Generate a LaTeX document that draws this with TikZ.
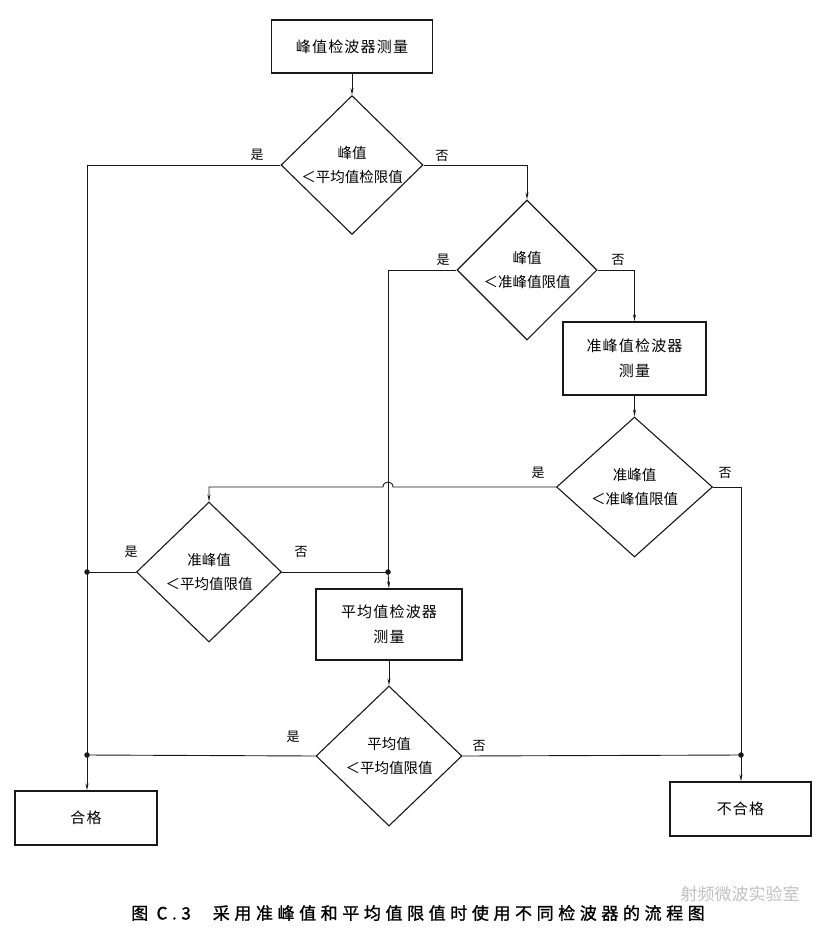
\documentclass[tikz,border=0pt]{standalone}
\usepackage{fontspec}
\setmainfont{Noto Sans CJK SC}
\newfontfamily\capfont[FakeBold=1.2,LetterSpace=27]{Noto Sans CJK SC}
\newfontfamily\boxfont[LetterSpace=8]{Noto Sans CJK SC}
\usetikzlibrary{shapes.geometric,arrows.meta}
\definecolor{ln}{gray}{0.1}
\tikzset{
  stepbox/.style={draw=ln, line width=1.3pt, align=center, inner sep=0pt,
    font=\boxfont\fontsize{15}{25}\selectfont},
  decide/.style={draw=ln, line width=1.1pt, shape=diamond, inner sep=0pt, align=center,
    font=\fontsize{14.5}{24}\selectfont},
  yn/.style={font=\fontsize{13}{15}\selectfont, inner sep=0pt},
  conn/.style={draw=ln, line width=0.9pt},
  arr/.style={conn, -{Stealth[length=7pt,width=3pt]}},
  jdot/.style={circle, fill=ln, inner sep=0pt, minimum size=5.5pt}
}
\begin{document}
\begin{tikzpicture}[x=1pt,y=-1pt]
\useasboundingbox (0,0) rectangle (826,940);
\fill[white] (0,0) rectangle (826,940);

% boxes
\node[stepbox, minimum width=161pt, minimum height=53pt] (A) at (352,46.5) {峰值检波器测量};
\node[stepbox, minimum width=143pt, minimum height=73pt] (B) at (634.5,358.5) {准峰值检波器\\测量};
\node[stepbox, minimum width=146pt, minimum height=71pt] (C) at (389,624.5) {平均值检波器\\测量};
\node[stepbox, minimum width=142pt, minimum height=54pt] (pass) at (86,818) {合格};
\node[stepbox, minimum width=141pt, minimum height=54pt] (fail) at (740.5,809) {不合格};

% decisions
\node[decide, minimum width=142pt, minimum height=138pt] (D1) at (352,165) {峰值\\＜平均值检限值};
\node[decide, minimum width=140pt, minimum height=140pt] (D2) at (527,270) {峰值\\＜准峰值限值};
\node[decide, minimum width=156pt, minimum height=140pt] (D3) at (634.5,487) {准峰值\\＜准峰值限值};
\node[decide, minimum width=145pt, minimum height=140pt] (D4) at (209,572) {准峰值\\＜平均值限值};
\node[decide, minimum width=146pt, minimum height=140pt] (D5) at (389,756) {平均值\\＜平均值限值};

% junctions
\coordinate (j1) at (87,572);
\coordinate (j2) at (87,755);
\coordinate (j3) at (388,572);
\coordinate (j4) at (741,755);
\coordinate (jump) at (388,487);

% connectors
\draw[arr] (A.south) -- (D1.north);
\draw[conn] (D1.west) -| (j2);
\draw[arr] (j2) -- (j2 |- pass.north);
\draw[arr] (D1.east) -| (D2.north);
\draw[conn] (D2.west) -| (j3);
\draw[arr] (D2.east) -| (B.north);
\draw[arr] (B.south) -- (D3.north);
\draw[arr] (D3.west) -- ([xshift=5pt]jump)
   .. controls ([xshift=5pt,yshift=6.7pt]jump) and ([xshift=-5pt,yshift=6.7pt]jump) .. ([xshift=-5pt]jump)
   -| (D4.north);
\draw[conn] (D3.east) -| (j4);
\draw[arr] (j4) -- (j4 |- fail.north);
\draw[conn] (D4.west) -- (j1);
\draw[conn] (D4.east) -- (j3);
\draw[arr] (j3) -- (C.north);
\draw[arr] (C.south) -- (D5.north);
\draw[conn] (D5.west) -- (j2);
\draw[conn] (D5.east) -- (j4);

\node[jdot] (dj1) at (j1) {};
\node[jdot] (dj2) at (j2) {};
\node[jdot] (dj3) at (j3) {};
\node[jdot] (dj4) at (j4) {};

% yes / no labels
\node[yn] (y1) at (257,155) {是};
\node[yn] (n1) at (442,156) {否};
\node[yn] (y2) at (443,260) {是};
\node[yn] (n2) at (618,260) {否};
\node[yn] (y3) at (538,473) {是};
\node[yn] (n3) at (725,473) {否};
\node[yn] (y4) at (131,552) {是};
\node[yn] (n4) at (301,552) {否};
\node[yn] (y5) at (293,737) {是};
\node[yn] (n5) at (479,746) {否};

% caption
\node[font=\capfont\fontsize{17}{20}\selectfont, inner sep=0pt] (cap) at (418,913) {图 C.3\hspace{22pt}采用准峰值和平均值限值时使用不同检波器的流程图};
\node[font=\fontsize{17}{20}\selectfont, text=gray!60, opacity=0.8, inner sep=0pt] (wm) at (740,894) {射频微波实验室};
\end{tikzpicture}
\end{document}
